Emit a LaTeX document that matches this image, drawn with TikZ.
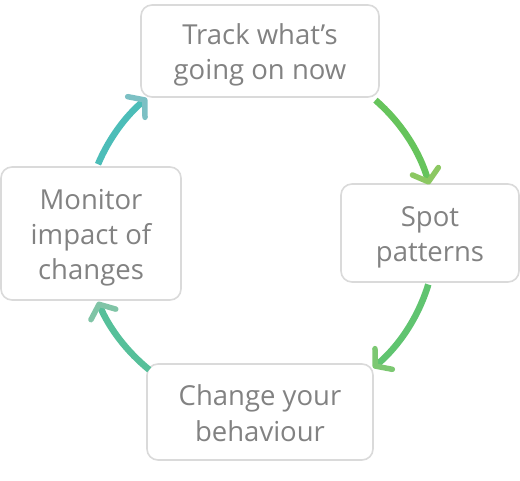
\documentclass[tikz,border=0pt]{standalone}
\usepackage{fontspec}
\setmainfont{Open Sans}
\usetikzlibrary{arrows.meta}
\definecolor{boxline}{HTML}{DADADA}
\definecolor{txt}{HTML}{828282}
\definecolor{aone}{HTML}{66C45C}
\definecolor{aonehead}{HTML}{8CC862}
\definecolor{atwo}{HTML}{60C470}
\definecolor{atwohead}{HTML}{7CC872}
\definecolor{athree}{HTML}{56C09A}
\definecolor{athreehead}{HTML}{80C4A6}
\definecolor{afour}{HTML}{4CBDB8}
\definecolor{afourhead}{HTML}{7CC0C4}
\newcommand{\topstrut}{\rule{0pt}{31pt}}
\newcommand{\botstrut}{\rule[-8pt]{0pt}{0pt}}
\begin{document}
\begin{tikzpicture}[x=1pt,y=1pt,
  stepbox/.style={draw=boxline,line width=1.6pt,rounded corners=11pt,fill=white,
    text=txt,align=center,font=\fontsize{27.5}{35}\selectfont,inner sep=0pt},
  cyc/.style={line width=6.5pt}]
\useasboundingbox (0,0) rectangle (520,480);
\coordinate (c) at (260,247);
\node[stepbox,minimum width=238pt,minimum height=92pt] (track) at (260,429) {\topstrut Track what’s\\going on now\botstrut};
\node[stepbox,minimum width=178pt,minimum height=98pt] (spot) at (430,247) {\topstrut Spot\\patterns\botstrut};
\node[stepbox,minimum width=226pt,minimum height=96pt] (change) at (260,68) {\topstrut Change your\\behaviour\botstrut};
\node[stepbox,minimum width=180pt,minimum height=133pt] (monitor) at (91,246.5) {\topstrut Monitor\\impact of\\changes\botstrut};
\draw[cyc,aone,-{Straight Barb[length=11pt,width=27pt,line width=5.5pt,round,color=aonehead]}]
  (c) ++(49:176) arc[start angle=49,end angle=16,radius=176];
\draw[cyc,atwo,-{Straight Barb[length=11pt,width=27pt,line width=5.5pt,round,color=atwohead]}]
  (c) ++(-17:176) arc[start angle=-17,end angle=-50,radius=176];
\draw[cyc,athree,-{Straight Barb[length=11pt,width=27pt,line width=5.5pt,round,color=athreehead]}]
  (c) ++(231:176) arc[start angle=231,end angle=203,radius=176];
\draw[cyc,afour,-{Straight Barb[length=11pt,width=27pt,line width=5.5pt,round,color=afourhead]}]
  (c) ++(157:176) arc[start angle=157,end angle=130,radius=176];
\end{tikzpicture}
\end{document}
